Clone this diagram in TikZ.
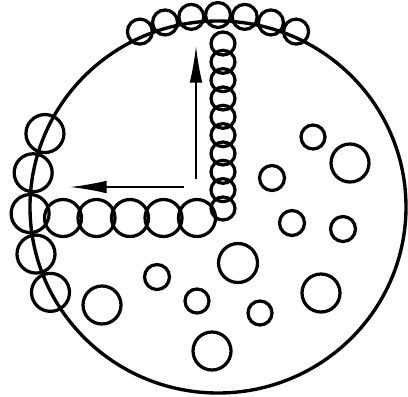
\documentclass[tikz,border=0pt]{standalone}
\usetikzlibrary{arrows.meta}
\begin{document}
\begin{tikzpicture}[x=0.025cm, y=-0.025cm, >={Latex[length=26pt,width=9pt]},
    bead/.style={line width=2.3pt}]
    \useasboundingbox (0,0) rectangle (408,396);
    \draw[line width=2.4pt] (218,207) ellipse (188 and 186);

    \begin{scope}[shift={(218,207)}]
        \foreach \a in {-114,-106,...,-66}
            \draw[bead] (\a:192) circle (12.5);
        \foreach \a in {203,190.5,178,165.5,153}
            \draw[bead] (\a:188) circle (19);
    \end{scope}

    \foreach \k in {0,...,9}
        \draw[bead] (223,{43.5+18.33*\k}) ellipse (12 and 11.5);
    \foreach \k in {0,...,4}
        \draw[bead] ({63+33.5*\k},218) circle (18.5);

    \foreach \x/\y/\r in {313/137/12, 350/163/19, 272/178/12.5, 292/223/12.5,
                       343/229/12.5, 238/263/19.5, 157/277/12.5, 197/301/12,
                       321/293/19, 102/305/19, 260/313/12, 212/351/19}
        \draw[bead] (\x,\y) circle (\r);

    \coordinate (vfoot) at (196,179);
    \coordinate (vtip) at (196,46);
    \coordinate (hfoot) at (184,187);
    \coordinate (htip) at (70,187);
    \draw[->, line width=1.2pt] (vfoot) -- (vtip);
    \draw[->, line width=1.2pt] (hfoot) -- (htip);
\end{tikzpicture}
\end{document}
